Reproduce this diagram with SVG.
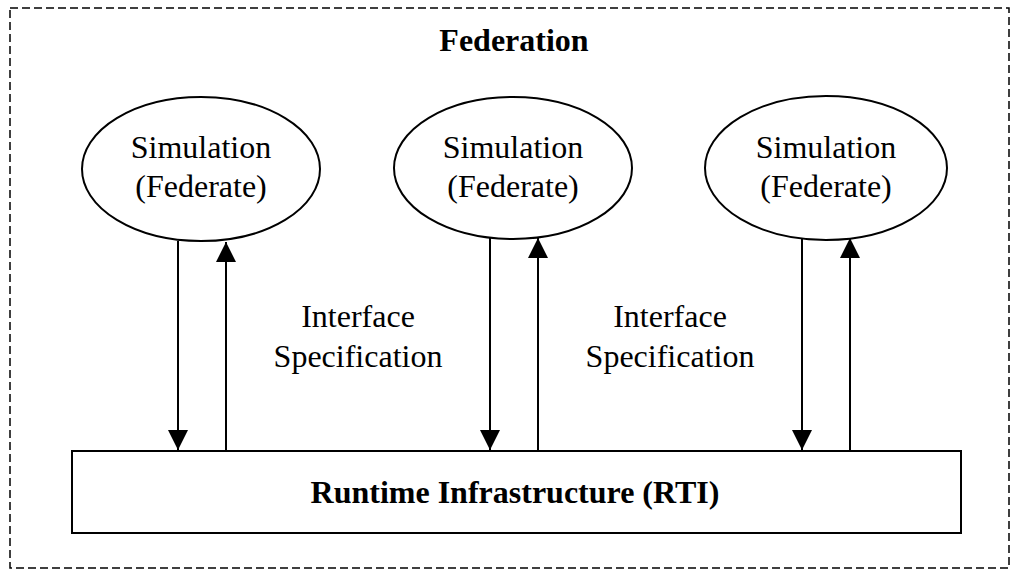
<svg xmlns="http://www.w3.org/2000/svg" width="1012" height="570" viewBox="0 0 1012 570">
<style>
.t{font-family:"Liberation Serif","Times New Roman",serif;font-size:32px;fill:#000;text-anchor:middle}
.b{font-weight:bold}
.s{fill:#fff;stroke:#000;stroke-width:2}
.c{stroke:#000;stroke-width:2;fill:none}
</style>
<defs>
<marker id="ah" viewBox="0 0 20 20" refX="20" refY="10" markerWidth="20" markerHeight="20" markerUnits="userSpaceOnUse" orient="auto">
<path d="M0,0 L20,10 L0,20 Z" fill="#000"/>
</marker>
</defs>
<g id="federation">
<rect x="10" y="8" width="999" height="560" fill="none" stroke="#000" stroke-width="1.5" stroke-dasharray="8 4"/>
<text class="t b" x="514" y="51">Federation</text>
</g>
<g id="fed1">
<ellipse class="s" cx="201" cy="169" rx="119" ry="72"/>
<text class="t" x="201" y="158">Simulation</text>
<text class="t" x="201" y="197">(Federate)</text>
</g>
<g id="fed2">
<ellipse class="s" cx="513" cy="168" rx="119" ry="71"/>
<text class="t" x="513" y="158">Simulation</text>
<text class="t" x="513" y="197">(Federate)</text>
</g>
<g id="fed3">
<ellipse class="s" cx="826" cy="168" rx="121" ry="72"/>
<text class="t" x="826" y="158">Simulation</text>
<text class="t" x="826" y="197">(Federate)</text>
</g>
<g id="rti">
<rect class="s" x="72" y="451" width="889" height="82"/>
<text class="t b" x="515" y="503">Runtime Infrastructure (RTI)</text>
</g>
<g id="labels">
<text class="t" x="358" y="327">Interface</text>
<text class="t" x="358" y="367">Specification</text>
<text class="t" x="670" y="327">Interface</text>
<text class="t" x="670" y="367">Specification</text>
</g>
<g id="connectors">
<line class="c" x1="178" y1="241" x2="178" y2="450" marker-end="url(#ah)"/>
<line class="c" x1="226" y1="451" x2="226" y2="242" marker-end="url(#ah)"/>
<line class="c" x1="490" y1="238" x2="490" y2="450" marker-end="url(#ah)"/>
<line class="c" x1="538" y1="451" x2="538" y2="238" marker-end="url(#ah)"/>
<line class="c" x1="802" y1="239" x2="802" y2="450" marker-end="url(#ah)"/>
<line class="c" x1="850" y1="451" x2="850" y2="238" marker-end="url(#ah)"/>
</g>
</svg>
